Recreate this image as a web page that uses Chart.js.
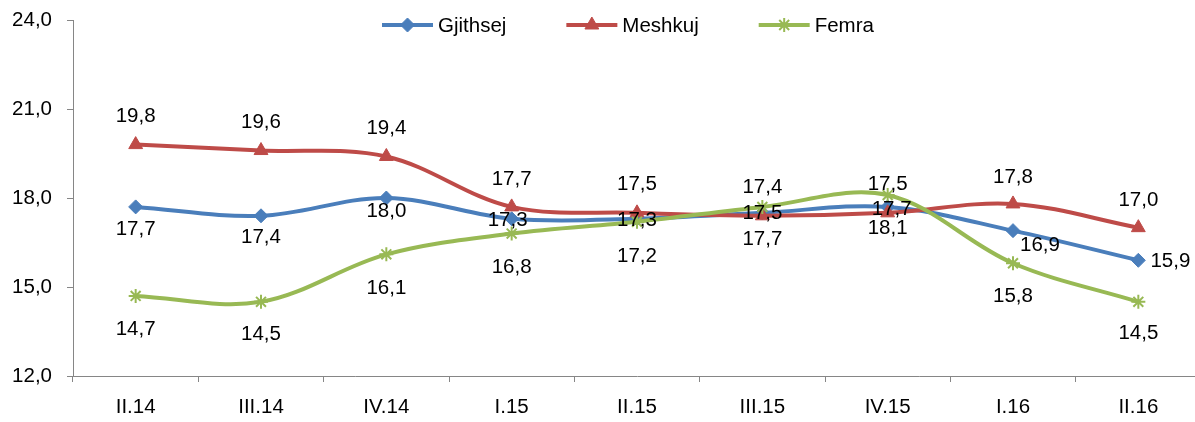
<!DOCTYPE html>
<html><head><meta charset="utf-8">
<script src="https://cdn.jsdelivr.net/npm/chart.js@4/dist/chart.umd.min.js"></script>
<style>html,body{margin:0;padding:0;overflow:hidden;background:#fff}#wrap{position:relative;width:1210px;height:422px}</style>
</head><body><div id="wrap"><canvas id="c"></canvas></div>
<script>
const categories = ['II.14','III.14','IV.14','I.15','II.15','III.15','IV.15','I.16','II.16'];
const seriesNames = ['Gjithsej','Meshkuj','Femra'];
const gjithsej = [17.7,17.4,18.0,17.3,17.3,17.5,17.7,16.9,15.9];
const meshkuj = [19.8,19.6,19.4,17.7,17.5,17.4,17.5,17.8,17.0];
const femra = [14.7,14.5,16.1,16.8,17.2,17.7,18.1,15.8,14.5];
const yTicks = [12,15,18,21,24];

const FONT = '"Liberation Sans", Arial, sans-serif';
const FSIZE = 20.5;
const fmt = v => v.toFixed(1).replace('.', ',');

// label placement (pixel offsets of label centre from its point)
const labelOffsets = [
  [[0,21],[0,21],[0,12],[-4,1],[0,1],[0,0],[4,1],[27,14],[32,0]],
  [[0,-29],[0,-29],[0,-29],[0,-29],[0,-29],[0,-29],[0,-29],[0,-28],[0,-28]],
  [[0,32],[0,32],[0,33],[0,33],[0,34],[0,31],[0,32],[0,32],[0,31]]
];

Chart.defaults.font.family = FONT;
Chart.defaults.font.size = FSIZE;
Chart.defaults.color = '#000';

function marker(ctx, style, x, y, r, color, bw){
  ctx.save();
  ctx.fillStyle = color; ctx.strokeStyle = color; ctx.lineWidth = bw;
  if (Chart.helpers && Chart.helpers.drawPoint) {
    Chart.helpers.drawPoint(ctx, {pointStyle: style, radius: r, rotation: 0, borderWidth: bw}, x, y);
  }
  ctx.restore();
}

const legendPlugin = {
  id: 'xlLegend',
  afterDraw(chart, args, opts) {
    const ctx = chart.ctx;
    ctx.save();
    ctx.font = FSIZE + 'px ' + FONT;
    ctx.textBaseline = 'middle';
    ctx.textAlign = 'left';
    let x = opts.x; const y = opts.y;
    chart.data.datasets.forEach(ds => {
      ctx.strokeStyle = ds.borderColor; ctx.lineWidth = 4; ctx.lineCap = 'butt';
      ctx.beginPath(); ctx.moveTo(x, y); ctx.lineTo(x + opts.lineLen, y); ctx.stroke();
      marker(ctx, ds.pointStyle, x + opts.lineLen / 2, y, ds.pointRadius, ds.borderColor, ds.pointBorderWidth);
      x += opts.lineLen + opts.textGap;
      ctx.fillStyle = '#000';
      ctx.fillText(ds.label, x, y + 1);
      x += ctx.measureText(ds.label).width + opts.itemGap;
    });
    ctx.restore();
  }
};

const labelPlugin = {
  id: 'xlLabels',
  afterDatasetsDraw(chart, args, opts) {
    const ctx = chart.ctx;
    ctx.save();
    ctx.font = FSIZE + 'px ' + FONT;
    ctx.fillStyle = '#000';
    ctx.textAlign = 'center';
    ctx.textBaseline = 'middle';
    chart.data.datasets.forEach((ds, i) => {
      const meta = chart.getDatasetMeta(i);
      meta.data.forEach((pt, j) => {
        const off = opts.offsets[i][j];
        ctx.fillText(fmt(ds.data[j]), pt.x + off[0], pt.y + off[1] + 1);
      });
    });
    ctx.restore();
  }
};

const colors = ['#4A7EBB', '#BE4B48', '#98B954'];

new Chart(document.getElementById('c'), {
  type: 'line',
  data: {
    labels: categories,
    datasets: [
      {label: seriesNames[0], data: gjithsej, borderColor: colors[0], backgroundColor: colors[0],
       pointStyle: 'rectRot', pointRadius: 7, pointBorderWidth: 1, pointBackgroundColor: colors[0], pointBorderColor: colors[0], order: 3},
      {label: seriesNames[1], data: meshkuj, borderColor: colors[1], backgroundColor: colors[1],
       pointStyle: 'triangle', pointRadius: 8, pointBorderWidth: 1, pointBackgroundColor: colors[1], pointBorderColor: colors[1], order: 2},
      {label: seriesNames[2], data: femra, borderColor: colors[2], backgroundColor: colors[2],
       pointStyle: 'star', pointRadius: 7, pointBorderWidth: 2, pointBackgroundColor: colors[2], pointBorderColor: colors[2], order: 1}
    ].map(d => Object.assign({borderWidth: 4, tension: 0.35, fill: false, pointHoverRadius: d.pointRadius}, d))
  },
  options: {
    responsive: true,
    maintainAspectRatio: false,
    animation: false,
    layout: {padding: {top: 20, right: 8, bottom: 0, left: 0}},
    plugins: {
      legend: {display: false},
      tooltip: {enabled: false},
      xlLegend: {x: 382, y: 25, lineLen: 51, textGap: 5, itemGap: 60},
      xlLabels: {offsets: labelOffsets}
    },
    scales: {
      x: {
        type: 'category',
        offset: true,
        grid: {offset: true, drawOnChartArea: false, drawTicks: true, tickLength: 6, color: '#868686'},
        border: {display: true, color: '#868686', width: 1},
        ticks: {padding: 13, maxRotation: 0, autoSkip: false, color: '#000'},
        afterFit(s) { s.height = 46; s.paddingLeft = 0; s.paddingRight = 0; }
      },
      y: {
        min: 12, max: 24,
        grid: {drawOnChartArea: false, drawTicks: true, tickLength: 6, color: '#868686'},
        border: {display: true, color: '#868686', width: 1},
        afterBuildTicks(s) { s.ticks = yTicks.map(v => ({value: v})); },
        ticks: {padding: 15, color: '#000', callback: v => fmt(v)},
        afterFit(s) { s.width = 73; s.paddingTop = 0; s.paddingBottom = 0; }
      }
    }
  },
  plugins: [legendPlugin, labelPlugin]
});
</script>
</body></html>
